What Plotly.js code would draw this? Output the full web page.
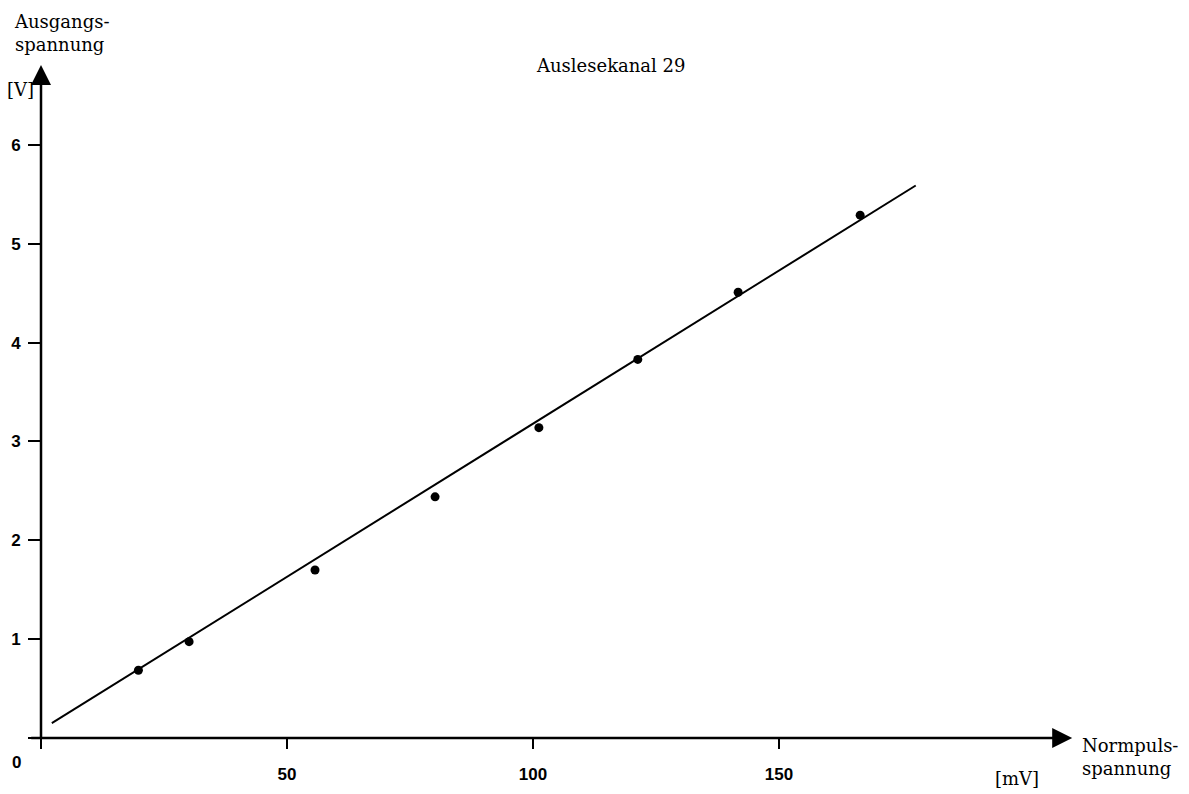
<!DOCTYPE html>
<html>
<head>
<meta charset="utf-8">
<script src="https://cdn.plot.ly/plotly-3.0.1.min.js"></script>
<style>html,body{margin:0;padding:0;background:#fff;}#chart{width:1189px;height:794px;}</style>
</head>
<body>
<div id="chart"></div>
<script>
// Measured points (Normpulsspannung [mV] -> Ausgangsspannung [V])
var pulseMV = [19.8, 30.1, 55.7, 80.1, 101.2, 121.3, 141.7, 166.5];
var outputV = [0.685, 0.975, 1.70, 2.44, 3.14, 3.83, 4.51, 5.29];
// Fitted straight line end points
var fitMV = [2.2, 177.8];
var fitV = [0.15, 5.59];
// Axis ticks
var xTicks = [50, 100, 150];
var yTicks = [1, 2, 3, 4, 5, 6];
var titleText = 'Auslesekanal 29';

var serif = 'DejaVu Serif, Liberation Serif, serif';
var sans = 'Liberation Sans, Arial, sans-serif';

var traces = [
  {x: fitMV, y: fitV, mode: 'lines', line: {color: '#000', width: 2}, hoverinfo: 'skip', showlegend: false},
  {x: pulseMV, y: outputV, mode: 'markers', marker: {color: '#000', size: 9}, showlegend: false}
];

function px2x(p){ return (p - 41) / 1043; }
function px2y(p){ return (738 - p) / 682; }

var layout = {
  width: 1189, height: 794,
  margin: {l: 41, r: 105, t: 56, b: 56},
  paper_bgcolor: '#fff', plot_bgcolor: '#fff',
  showlegend: false,
  xaxis: {
    range: [0, 212], showgrid: false, zeroline: false, showline: false,
    tickmode: 'array', tickvals: [0].concat(xTicks), ticktext: [''].concat(xTicks.map(String)),
    ticks: 'outside', ticklen: 10, tickwidth: 2, tickcolor: '#000',
    ticklabelstandoff: 11,
    tickfont: {family: sans, size: 17, color: '#000', weight: 'bold'}
  },
  yaxis: {
    range: [0, 6.9], showgrid: false, zeroline: false, showline: false,
    tickmode: 'array', tickvals: [0].concat(yTicks), ticktext: [''].concat(yTicks.map(String)),
    ticks: 'outside', ticklen: 12, tickwidth: 2, tickcolor: '#000',
    ticklabelstandoff: 4,
    tickfont: {family: sans, size: 17, color: '#000', weight: 'bold'}
  },
  annotations: [
    // axis arrows
    {x: 209.6, y: 0, ax: -2.6, ay: 0, xref: 'x', yref: 'y', axref: 'x', ayref: 'y',
     text: ' ', showarrow: true, arrowhead: 2, arrowsize: 1.6, arrowwidth: 2.5, arrowcolor: '#000', standoff: 0},
    {x: 0, y: 6.81, ax: 0, ay: -0.1, xref: 'x', yref: 'y', axref: 'x', ayref: 'y',
     text: ' ', showarrow: true, arrowhead: 2, arrowsize: 1.6, arrowwidth: 2.5, arrowcolor: '#000', standoff: 0},
    {text: titleText, xref: 'paper', yref: 'paper', x: px2x(610), y: px2y(66), xanchor: 'center', yanchor: 'middle',
     showarrow: false, font: {family: serif, size: 18, color: '#000'}},
    {text: 'Ausgangs-<br>spannung', xref: 'paper', yref: 'paper', x: px2x(12), y: px2y(33), xanchor: 'left', yanchor: 'middle',
     align: 'left', showarrow: false, font: {family: serif, size: 18, color: '#000'}},
    {text: '[V]', xref: 'paper', yref: 'paper', x: px2x(20), y: px2y(90), xanchor: 'center', yanchor: 'middle',
     showarrow: false, font: {family: serif, size: 18, color: '#000'}},
    {text: 'Normpuls-<br>spannung', xref: 'paper', yref: 'paper', x: px2x(1080), y: px2y(757), xanchor: 'left', yanchor: 'middle',
     align: 'left', showarrow: false, font: {family: serif, size: 18, color: '#000'}},
    {text: '[mV]', xref: 'paper', yref: 'paper', x: px2x(1017), y: px2y(778), xanchor: 'center', yanchor: 'middle',
     showarrow: false, font: {family: serif, size: 18, color: '#000'}},
    {text: '0', xref: 'paper', yref: 'paper', x: px2x(16), y: px2y(762), xanchor: 'center', yanchor: 'middle',
     showarrow: false, font: {family: sans, size: 17, color: '#000', weight: 'bold'}}
  ]
};

Plotly.newPlot('chart', traces, layout, {staticPlot: true, displayModeBar: false});
</script>
</body>
</html>
